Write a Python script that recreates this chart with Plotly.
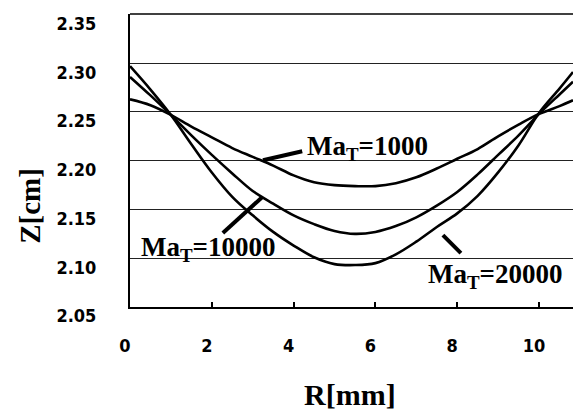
import plotly.graph_objects as go

# Radial position R [mm]
R = [0, 0.5, 1, 1.5, 2, 2.5, 3, 3.5, 4, 4.5, 5, 5.5, 6, 6.5, 7, 7.5, 8, 8.5, 9, 9.5, 10, 10.5, 10.83]

# Interface height Z [cm] for each Marangoni number
z_ma1000 = [2.263, 2.257, 2.247, 2.235, 2.224, 2.213, 2.204, 2.195, 2.185, 2.178, 2.175, 2.174,
            2.174, 2.177, 2.183, 2.192, 2.202, 2.212, 2.225, 2.237, 2.248, 2.256, 2.262]
z_ma10000 = [2.286, 2.267, 2.247, 2.226, 2.206, 2.187, 2.169, 2.156, 2.144, 2.135, 2.128, 2.125,
             2.127, 2.133, 2.142, 2.154, 2.168, 2.186, 2.206, 2.226, 2.248, 2.268, 2.281]
z_ma20000 = [2.297, 2.273, 2.247, 2.217, 2.188, 2.163, 2.144, 2.127, 2.113, 2.101, 2.094, 2.093,
             2.095, 2.104, 2.117, 2.132, 2.146, 2.164, 2.188, 2.216, 2.249, 2.274, 2.291]

series = [("Ma<sub>T</sub>=1000", z_ma1000),
          ("Ma<sub>T</sub>=10000", z_ma10000),
          ("Ma<sub>T</sub>=20000", z_ma20000)]

x_ticks = [0, 2, 4, 6, 8, 10]
y_ticks = [2.05, 2.10, 2.15, 2.20, 2.25, 2.30, 2.35]
y_ticktext = ["2.05", "2.10", "2.15", "2.20", "2.25", "2.30", "2.35"]

fig = go.Figure()
for name, z in series:
    fig.add_trace(go.Scatter(x=R, y=z, mode="lines", name=name,
                             line=dict(color="black", width=2.6, shape="spline", smoothing=1.0),
                             showlegend=False, hoverinfo="skip"))

serif = "Liberation Serif, Times New Roman, serif"
tickfont = dict(family="DejaVu Sans Condensed, DejaVu Sans, sans-serif", size=18, color="black", weight="bold")

# Curve labels with pointer lines
labels = [
    dict(text="Ma<sub>T</sub>=1000", x=4.28, y=2.2128, line=(3.25, 2.2005, 4.21, 2.2097)),
    dict(text="Ma<sub>T</sub>=10000", x=0.22, y=2.1094, line=(2.27, 2.1258, 3.23, 2.1626)),
    dict(text="Ma<sub>T</sub>=20000", x=7.24, y=2.0818, line=(7.65, 2.1237, 8.09, 2.1053)),
]
annotations = []
shapes = []
for lb in labels:
    annotations.append(dict(text=lb["text"], x=lb["x"], y=lb["y"], xref="x", yref="y",
                            xanchor="left", yanchor="middle", showarrow=False,
                            font=dict(family=serif, size=27, color="black", weight="bold")))
    x0, y0, x1, y1 = lb["line"]
    shapes.append(dict(type="line", xref="x", yref="y", x0=x0, y0=y0, x1=x1, y1=y1,
                       line=dict(color="black", width=4)))

# top border of the plot frame
shapes.append(dict(type="line", xref="paper", yref="paper", x0=0, x1=1, y0=1, y1=1,
                   line=dict(color="black", width=1.6)))

annotations.append(dict(text="Z[cm]", x=-0.226, y=0.345, xref="paper", yref="paper",
                        textangle=-90, showarrow=False, xanchor="center", yanchor="middle",
                        font=dict(family=serif, size=29, color="black", weight="bold")))
annotations.append(dict(text="R[mm]", x=0.497, y=-0.30, xref="paper", yref="paper",
                        showarrow=False, xanchor="center", yanchor="middle",
                        font=dict(family=serif, size=30, color="black", weight="bold")))

fig.update_layout(
    width=573, height=411,
    margin=dict(l=130, r=0, t=14, b=104, autoexpand=False),
    paper_bgcolor="white", plot_bgcolor="white",
    annotations=annotations, shapes=shapes,
    xaxis=dict(range=[0, 10.83], tickmode="array", tickvals=x_ticks,
               ticks="inside", ticklen=5, tickwidth=1.5, tickcolor="black",
               showline=True, linecolor="black", linewidth=2, mirror=False,
               showgrid=False, zeroline=False, tickfont=tickfont, automargin=False,
               ticklabelshift=-5, ticklabelstandoff=21),
    yaxis=dict(range=[2.05, 2.3505], tickmode="array", tickvals=y_ticks, ticktext=y_ticktext,
               ticks="", showline=True, linecolor="black", linewidth=2,
               showgrid=True, gridcolor="#222", gridwidth=1.2, zeroline=False,
               tickfont=tickfont, automargin=False, ticklabelshift=9, ticklabelstandoff=28),
)

fig.write_html("out.html", config={"displayModeBar": False},
               post_script="document.body.style.margin='0';document.body.style.overflow='hidden';")
